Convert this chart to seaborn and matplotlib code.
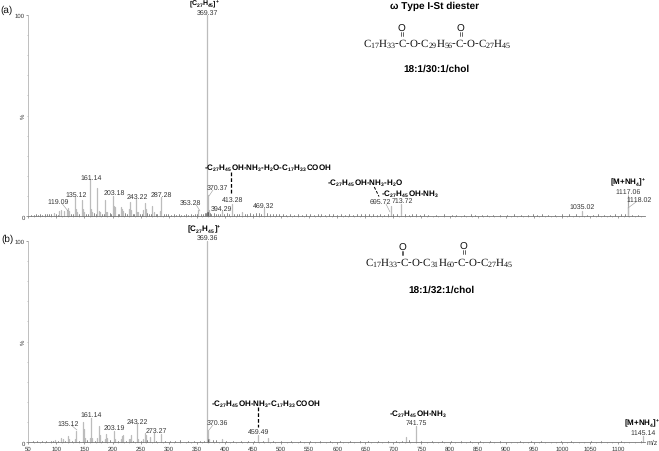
import matplotlib
matplotlib.use("Agg")
import matplotlib.pyplot as plt
import pandas as pd
import seaborn as sns

# ---------- data ----------
major_a_mz = [95, 105, 109, 113, 119, 121, 123, 133, 135, 137, 145, 147, 149, 159, 161, 163, 173, 175, 177, 187, 189, 191, 201, 203, 205, 215, 217, 219, 229, 231, 233, 241, 243, 245, 255, 257, 259, 271, 273, 285, 287, 353, 369, 370, 371, 394, 413, 431, 469, 695, 713, 1035, 1117, 1118]
major_a_h = [1.5, 2.5, 3, 2.5, 3, 4, 2.5, 9.4, 3.5, 2, 8, 3.5, 2, 18.5, 3.5, 2, 14, 2.5, 2, 8, 2, 2, 10, 5, 4.5, 4.5, 3.5, 2.5, 3.5, 7, 3, 8.6, 2, 2, 3, 6.6, 3.5, 5.3, 2, 2.5, 9.4, 3.3, 100, 10.5, 3, 2.5, 6, 2, 4, 5, 6, 2.5, 10, 4.5]
noise_a_mz = [55, 60, 64, 68, 71, 75, 79, 83, 87, 91, 99, 102, 126, 129, 141, 153, 156, 167, 170, 181, 184, 195, 198, 209, 212, 223, 226, 236, 238, 249, 252, 262, 265, 268, 277, 280, 291, 295, 299, 304, 309, 313, 318, 322, 327, 331, 335, 339, 343, 347, 351, 357, 361, 365, 367, 368, 369.5, 370.5, 373, 376, 380, 384, 388, 391, 399, 403, 407, 417, 421, 425, 435, 440, 445, 450, 455, 460, 465, 475, 480, 486, 491, 497, 503, 509, 516, 523, 530, 537, 544, 551, 558, 565, 572, 579, 586, 593, 600, 607, 614, 621, 628, 635, 642, 649, 656, 663, 670, 677, 684, 690, 700, 706, 720, 727, 734, 741, 748, 755, 762, 775, 790, 805, 812, 825, 838, 846, 858, 866, 878, 890, 902, 915, 928, 940, 948, 956, 964, 975, 988, 1000, 1012, 1025, 1045, 1055, 1065, 1075, 1085, 1095, 1105, 1112, 1125, 1135]
noise_a_h = [0.8, 0.6, 1, 0.7, 1.2, 0.8, 1.1, 0.9, 1.2, 1.3, 1, 0.8, 1.2, 1.1, 1.3, 1.2, 1, 1.4, 1, 1.2, 1, 1.5, 1.2, 1.3, 1, 1.4, 1.1, 1.2, 1, 1.3, 1.1, 1.5, 1.2, 1, 1.3, 1.1, 1.2, 1, 0.9, 0.8, 1, 0.7, 0.9, 0.8, 0.7, 0.9, 0.8, 1, 0.7, 1.1, 1.3, 1.1, 1.3, 1.5, 1.8, 2, 2.2, 2, 1.6, 1.2, 1.4, 1.1, 1.2, 1, 1.1, 1.4, 1, 1.3, 1, 1.1, 1.2, 1.1, 1.5, 1.2, 1.4, 1.5, 1.3, 1.5, 1.2, 1, 1.3, 0.9, 1.1, 0.8, 1, 0.7, 1, 0.8, 0.9, 1.1, 0.8, 1, 0.9, 0.7, 1.1, 0.9, 0.8, 1, 0.7, 1, 0.8, 1.2, 0.9, 1, 1.3, 0.9, 0.7, 1, 0.8, 1.1, 1.3, 1, 1.2, 0.8, 1, 1.1, 0.7, 0.9, 0.8, 0.6, 0.9, 0.7, 0.8, 0.6, 1, 0.7, 0.8, 0.7, 0.6, 0.8, 0.7, 0.9, 0.6, 0.8, 1, 0.7, 0.9, 0.7, 0.6, 0.9, 1, 1.2, 0.8, 0.7, 0.9, 0.8, 0.7, 0.9, 1, 1.3, 0.8, 0.7]

major_b_mz = [97, 109, 111, 121, 123, 133, 135, 147, 149, 151, 159, 161, 163, 173, 175, 177, 187, 189, 191, 203, 205, 215, 217, 219, 229, 231, 233, 243, 245, 255, 257, 259, 267, 273, 287, 369, 370, 372, 394, 459, 477, 722, 741, 1145]
major_b_h = [1, 2, 1.5, 3, 1.5, 1.5, 5.8, 10.2, 6.6, 2, 2, 12.2, 2, 2, 8, 3.5, 1.5, 4, 2, 5.8, 1.5, 1.5, 3, 3.6, 1.5, 1.5, 3.6, 9.4, 1.5, 1.5, 4.5, 3.5, 2.5, 4.8, 4, 100, 6, 1.5, 1.5, 3.6, 2, 2.5, 8, 3]
noise_b_mz = [58, 66, 74, 82, 90, 94, 103, 115, 127, 140, 155, 168, 181, 195, 210, 224, 237, 250, 262, 278, 294, 303, 312, 320, 334, 345, 355, 362, 369.5, 370.5, 378, 384, 402, 414, 428, 442, 451, 468, 485, 500, 518, 533, 552, 570, 588, 605, 622, 640, 655, 672, 690, 705, 716, 728, 750, 768, 786, 803, 820, 836, 855, 872, 890, 908, 926, 945, 962, 980, 998, 1016, 1034, 1052, 1070, 1088, 1106, 1124, 1140]
noise_b_h = [0.5, 0.4, 0.6, 0.5, 0.7, 0.6, 0.7, 0.6, 0.8, 0.7, 0.9, 0.7, 0.8, 0.9, 0.7, 0.6, 0.8, 0.7, 0.9, 0.7, 0.6, 0.7, 0.8, 0.9, 0.7, 0.8, 0.6, 0.7, 1.5, 1.3, 0.9, 1, 0.8, 0.7, 0.6, 0.8, 0.7, 0.8, 0.6, 0.5, 0.7, 0.5, 0.6, 0.5, 0.6, 0.7, 0.5, 0.6, 0.7, 0.5, 0.6, 0.5, 0.7, 0.9, 0.6, 0.5, 0.4, 0.6, 0.5, 0.4, 0.5, 0.4, 0.5, 0.3, 0.4, 0.5, 0.4, 0.3, 0.5, 0.4, 0.3, 0.4, 0.5, 0.3, 0.4, 0.3, 0.4]

xtick_values = list(range(50, 1101, 50))
title_a = "\u03c9 Type I-St diester"
name_a = "18:1/30:1/chol"
name_b = "18:1/32:1/chol"

# ---------- style ----------
W, H = 659, 452
sns.set_theme(style="white", rc={
    "font.family": ["Liberation Sans", "DejaVu Sans"],
    "mathtext.fontset": "custom",
    "mathtext.rm": "Liberation Serif",
    "mathtext.bf": "Liberation Sans:bold",
    "mathtext.default": "rm",
    "text.hinting": "none",
    "text.hinting_factor": 1,
})
H_ = "\u2010"
def bold(s):
    return r"$\mathbf{" + s.replace("-", H_) + "}$"

CHOL = "[C_{27}H_{45}]^{+}"
MNH = "[M{+}NH_{4}]^{+}"
F1 = "-C_{27}H_{45}OH-NH_{3}-H_{2}O-C_{17}H_{33}COOH"
F2 = "-C_{27}H_{45}OH-NH_{3}-H_{2}O"
F3 = "-C_{27}H_{45}OH-NH_{3}"
F4 = "-C_{27}H_{45}OH-NH_{3}-C_{17}H_{33}COOH"
S1 = r"$\mathrm{C_{17}H_{33}" + H_ + "C" + H_ + "O" + H_ + "C_{29}H_{56}" + H_ + "C" + H_ + "O" + H_ + "C_{27}H_{45}}$"
S2 = r"$\mathrm{C_{17}H_{33}" + H_ + "C" + H_ + "O" + H_ + "C_{31}H_{60}" + H_ + "C" + H_ + "O" + H_ + "C_{27}H_{45}}$"

fig = plt.figure(figsize=(W / 100, H / 100), dpi=100, facecolor="white")

def peaks_df(mz, h):
    rows = []
    for i, (m, v) in enumerate(zip(mz, h)):
        rows.append({"mz": m, "y": 0, "peak": i})
        rows.append({"mz": m, "y": v, "peak": i})
    return pd.DataFrame(rows)

def panel(top, bottom, major_mz, major_h, noise_mz, noise_h, labels):
    ax = fig.add_axes([28.3 / W, 1 - bottom / H, (645 - 28.3) / W, (bottom - top) / H])
    ax.patch.set_alpha(0)
    sns.lineplot(data=peaks_df(major_mz, major_h), x="mz", y="y", units="peak", estimator=None,
                 color="#bcbcbc", lw=0.9, ax=ax, legend=False, clip_on=False)
    sns.lineplot(data=peaks_df(noise_mz, noise_h), x="mz", y="y", units="peak", estimator=None,
                 color="#5a5a5a", lw=0.5, ax=ax, legend=False, clip_on=False)
    ax.set_xlim(50, 1148)
    ax.set_ylim(0, 100)
    ax.set_xlabel("")
    ax.set_ylabel("")
    ax.set_xticks(xtick_values)
    ax.set_xticks(range(50, 1148, 10), minor=True)
    ax.set_yticks([0, 100])
    ax.set_yticks(range(0, 100, 10), minor=True)
    ax.tick_params(axis="both", which="major", length=1.6, width=0.5, color="#777777", pad=0.8,
                   labelsize=4.6, labelcolor="#333333", bottom=True, left=True)
    ax.tick_params(axis="both", which="minor", length=1, width=0.4, color="#999999", bottom=True, left=True)
    if not labels:
        ax.set_xticklabels([])
    sns.despine(ax=ax)
    for s in ("left", "bottom"):
        ax.spines[s].set_linewidth(0.6)
    ax.spines["left"].set_color("#b4b4b4")
    ax.spines["bottom"].set_color("#777777")
    return ax

panel(15.7, 217.3, major_a_mz, major_a_h, noise_a_mz, noise_a_h, False)
panel(241.7, 443.3, major_b_mz, major_b_h, noise_b_mz, noise_b_h, True)

def T(x, y, s, size=4.8, color="#333333", **kw):
    kw.setdefault("ha", "center")
    fig.text(x / W, 1 - y / H, s, fontsize=size, color=color, va="center", **kw)

def L(x0, y0, x1, y1, **kw):
    kw.setdefault("color", "#999999")
    kw.setdefault("lw", 0.4)
    fig.add_artist(plt.Line2D([x0 / W, x1 / W], [1 - y0 / H, 1 - y1 / H], **kw))

value_labels = [
    (90.7, 177.7, "161.14"), (76.3, 194.7, "135.12"), (58, 201.7, "119.09"), (114, 193, "203.18"),
    (137, 196.7, "243.22"), (161.7, 194.7, "287.28"), (190, 203, "353.28"), (217, 188.3, "370.37"),
    (221.7, 208.7, "394.29"), (232.3, 200.3, "413.28"), (263.3, 206, "469.32"), (207.5, 13.2, "369.37"),
    (380.5, 202, "695.72"), (402, 201.3, "713.72"), (581.7, 207.3, "1035.02"), (627.7, 192, "1117.06"),
    (638.7, 200.3, "1118.02"),
    (67.7, 423.7, "135.12"), (90.7, 415.3, "161.14"), (114.3, 428.3, "203.19"), (137, 421.7, "243.22"),
    (156, 430.7, "273.27"), (217, 423.3, "370.36"), (258.3, 432, "459.49"), (207.3, 238.2, "369.36"),
    (416.7, 422.7, "741.75"), (643.3, 432.8, "1145.14"),
]
for x, y, s in value_labels:
    T(x, y, s)

T(652.3, 443.3, "m/z")
for y in (116.5, 342.5):
    T(23, y, "%", rotation=90, size=4.5)

# leader lines from labels to their peaks
L(62, 204.5, 68, 212); L(196, 205.5, 200, 212); L(213, 191, 209, 197)
L(71, 426, 77, 431); L(213, 426, 209, 431); L(386, 205, 390, 213); L(628, 195, 628, 207); L(636, 203, 628, 209)

T(0, 10, "(a)", size=7, ha="left", color="#111111")
T(1.5, 239.3, "(b)", size=7, ha="left", color="#111111")

T(204, 4.6, bold(CHOL), size=5.0, color="black")
for x, y, s in [(204, 229.5, CHOL), (268.3, 167.3, F1), (365.7, 182.7, F2), (410, 193.3, F3),
                (628, 182.3, MNH), (266, 403.3, F4), (418.3, 413.7, F3), (642, 423.3, MNH)]:
    T(x, y, bold(s), size=5.5, color="black")

T(435, 6.7, title_a, size=7, color="black", fontweight="bold")
T(436, 69, name_a, size=7, color="black", fontweight="bold")
T(441, 290.3, name_b, size=7, color="black", fontweight="bold")

# structural formulas
T(437, 43.3, S1, size=8.0, color="#111111")
T(439.3, 262.7, S2, size=8.1, color="#111111")
for x, y in [(401.7, 29), (460.7, 29), (402.3, 248), (463.7, 247)]:
    T(x, y, "O", size=7, color="#111111")
    L(x - 0.8, y + 4, x - 0.8, y + 8, color="#222222", lw=0.5)
    L(x + 0.8, y + 4, x + 0.8, y + 8, color="#222222", lw=0.5)

# dashed guides
dash = dict(color="black", lw=0.9, ls=(0, (3, 1.6)))
L(231.3, 173, 231.3, 195, **dash)
L(258.3, 407.7, 258.3, 427.7, **dash)
L(374.3, 188, 379, 197.5, **dict(dash, lw=0.7))

fig.savefig("out.png", dpi=100)
